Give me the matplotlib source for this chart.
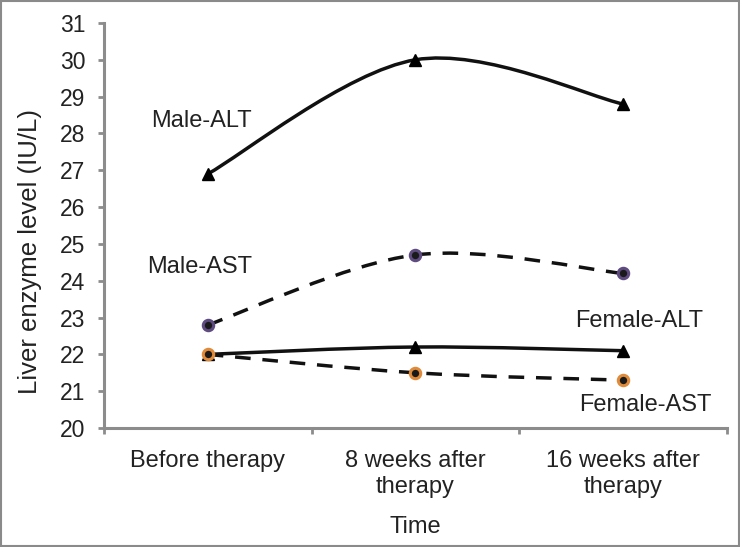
import matplotlib
matplotlib.use("Agg")
import matplotlib.pyplot as plt
from matplotlib.path import Path
from matplotlib.patches import PathPatch, Rectangle

plt.rcParams['font.family'] = ['Liberation Sans', 'DejaVu Sans']

# Data
time_points = ["Before therapy", "8 weeks after\ntherapy", "16 weeks after\ntherapy"]
male_alt = [26.9, 30.0, 28.8]
male_ast = [22.8, 24.7, 24.2]
female_alt = [22.0, 22.2, 22.1]
female_ast = [22.0, 21.5, 21.3]

TEXT = "#222222"
AXIS = "#8c8c8c"


def smooth_path(xs, ys):
    # Excel-style smoothed line: cubic Bezier segments through every point
    pts = list(zip(xs, ys))
    verts = [pts[0]]
    codes = [Path.MOVETO]
    n = len(pts)
    for i in range(n - 1):
        p0 = pts[i - 1] if i > 0 else pts[i]
        p1 = pts[i]
        p2 = pts[i + 1]
        p3 = pts[i + 2] if i + 2 < n else pts[i + 1]
        c1 = (p1[0] + (p2[0] - p0[0]) / 6, p1[1] + (p2[1] - p0[1]) / 6)
        c2 = (p2[0] - (p3[0] - p1[0]) / 6, p2[1] - (p3[1] - p1[1]) / 6)
        verts += [c1, c2, p2]
        codes += [Path.CURVE4] * 3
    return Path(verts, codes)


fig = plt.figure(figsize=(7.4, 5.47), dpi=100)
ax = fig.add_axes([0.1405, 0.2175, 0.8415, 0.7405])

x = list(range(len(time_points)))

series = [
    (male_alt, "-", "^", "black", "black"),
    (male_ast, "--", "o", "#1a1a1a", "#5e4b80"),
    (female_alt, "-", "^", "black", "black"),
    (female_ast, "--", "o", "#1a1a1a", "#e08b3a"),
]

for vals, ls, mk, face, edge in series:
    patch = PathPatch(smooth_path(x, vals), facecolor="none", edgecolor="#111111",
                      lw=2.5, capstyle="butt", zorder=2)
    if ls == "--":
        patch.set_linestyle((0, (4.5, 3.4)))
    ax.add_patch(patch)
    if mk == "^":
        ax.plot(x, vals, linestyle="none", marker="^", markersize=9,
                markerfacecolor=face, markeredgecolor=edge, zorder=3)
    else:
        ax.plot(x, vals, linestyle="none", marker="o", markersize=7.5,
                markerfacecolor=face, markeredgecolor=edge, markeredgewidth=2.2, zorder=3)

ax.set_xlim(-0.5, 2.5)
ax.set_ylim(20, 31)
ax.set_yticks(range(20, 32))
ax.set_xticks([-0.5, 0.5, 1.5, 2.5])
ax.set_xticklabels([])
ax.set_xticks(x, minor=True)
ax.set_xticklabels(time_points, minor=True)
ax.tick_params(axis="both", which="major", length=4.5, width=2, color=AXIS,
               labelsize=16.5, labelcolor=TEXT)
ax.tick_params(axis="x", which="minor", length=0, pad=16, labelsize=17, labelcolor=TEXT)
ax.tick_params(axis="y", pad=9)

for side in ["top", "right"]:
    ax.spines[side].set_visible(False)
for side in ["left", "bottom"]:
    ax.spines[side].set_color(AXIS)
    ax.spines[side].set_linewidth(2.2)

ax.set_xlabel("Time", fontsize=17, color=TEXT, labelpad=13)
ax.set_ylabel("Liver enzyme level (IU/L)", fontsize=18.5, color=TEXT)
ax.yaxis.set_label_coords(-0.1, 0.437)

# Series labels
ax.text(-0.03, 28.35, "Male-ALT", fontsize=17, color=TEXT, ha="center", va="center")
ax.text(-0.04, 24.37, "Male-AST", fontsize=17, color=TEXT, ha="center", va="center")
ax.text(2.08, 22.9, "Female-ALT", fontsize=17, color=TEXT, ha="center", va="center")
ax.text(2.11, 20.62, "Female-AST", fontsize=17, color=TEXT, ha="center", va="center")

# Image border
fig.add_artist(Rectangle((0.001, 0.001), 0.998, 0.997, transform=fig.transFigure,
                         fill=False, edgecolor="#8a8a8a", lw=1.5))

fig.savefig("out.png", dpi=100)
